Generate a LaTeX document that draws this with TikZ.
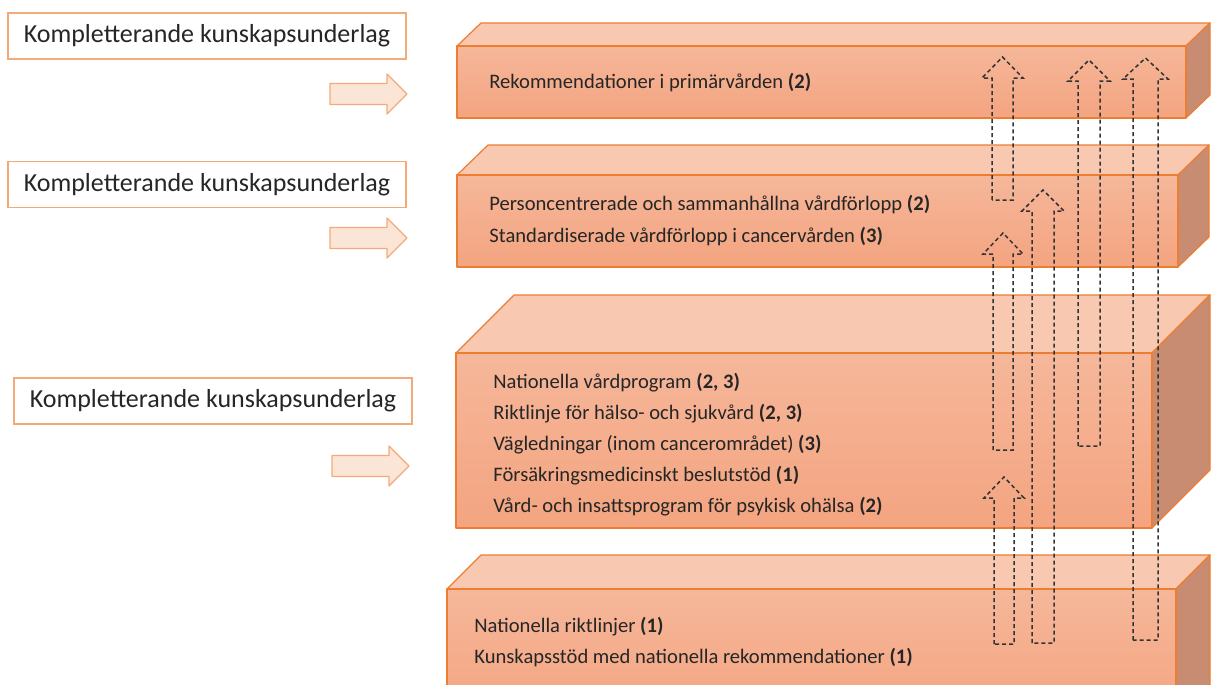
\documentclass[tikz,border=0pt]{standalone}
\usepackage{fontspec}
\setmainfont{Carlito}
\usepackage{xcolor}
\usepackage{tikz}
\usetikzlibrary{positioning}

\definecolor{topface}{RGB}{248,200,177}
\definecolor{fronttop}{RGB}{245,183,154}
\definecolor{frontbot}{RGB}{244,164,128}
\definecolor{sideface}{RGB}{199,140,114}
\definecolor{edgeorange}{RGB}{237,125,49}
\definecolor{labeledge}{RGB}{244,170,120}
\definecolor{peach}{RGB}{251,229,214}

\begin{document}
\begin{tikzpicture}[
    x=0.5pt, y=-0.5pt,
    face/.style={draw=edgeorange, line width=0.6pt, line join=round},
    front/.style={face, top color=fronttop, bottom color=frontbot},
    topside/.style={face, fill=topface},
    rightside/.style={face, fill=sideface},
    item/.style={anchor=west, inner sep=0pt, text=black!85, font=\fontsize{10.3}{12}\selectfont},
    sidebox/.style={rectangle, draw=labeledge, line width=0.6pt, fill=white, minimum width=199pt, minimum height=23pt, text=black!85, font=\fontsize{13}{15}\selectfont},
    blockarrow/.style={draw=labeledge, line width=0.6pt, fill=peach, line join=round},
    dasharrow/.style={draw=black!80, line width=0.75pt, dash pattern=on 2pt off 1.5pt}
]
\clip (0,0) rectangle (1216,685);

% Box 1 - primary care
\path[topside] (457,46) -- (481,23) -- (1210,23) -- (1186,46) -- cycle;
\path[rightside] (1186,46) -- (1210,23) -- (1210,95) -- (1186,118) -- cycle;
\path[front] (457,46) rectangle (1186,118);
\node[item] (rek) at (489,83) {Rekommendationer i primärvården \textbf{(2)}};

% Box 2 - care pathways
\path[topside] (457,175) -- (488,145) -- (1209,145) -- (1178,175) -- cycle;
\path[rightside] (1178,175) -- (1209,145) -- (1209,237) -- (1178,267) -- cycle;
\path[front] (457,175) rectangle (1178,267);
\node[item] (pers) at (489,205) {Personcentrerade och sammanhållna vårdförlopp \textbf{(2)}};
\node[item, below=16pt of pers.west, anchor=west] (std) {Standardiserade vårdförlopp i cancervården \textbf{(3)}};

% Box 3 - programmes
\path[topside] (456,353) -- (514,295) -- (1210,295) -- (1152,353) -- cycle;
\path[rightside] (1152,353) -- (1210,295) -- (1210,470) -- (1152,528) -- cycle;
\path[front] (456,353) rectangle (1152,528);
\node[item] (nvp) at (493,383) {Nationella vårdprogram \textbf{(2, 3)}};
\node[item, below=15.4pt of nvp.west, anchor=west] (rikt) {Riktlinje för hälso- och sjukvård \textbf{(2, 3)}};
\node[item, below=15.4pt of rikt.west, anchor=west] (vagl) {Vägledningar (inom cancerområdet) \textbf{(3)}};
\node[item, below=15.4pt of vagl.west, anchor=west] (fors) {Försäkringsmedicinskt beslutstöd \textbf{(1)}};
\node[item, below=15.4pt of fors.west, anchor=west] (psyk) {Vård- och insattsprogram för psykisk ohälsa \textbf{(2)}};

% Box 4 - national guidelines
\path[topside] (447,589) -- (481,555) -- (1210,555) -- (1176,589) -- cycle;
\path[rightside] (1176,589) -- (1210,555) -- (1210,720) -- (1176,720) -- cycle;
\path[front] (447,589) rectangle (1176,720);
\node[item] (nrl) at (474,627) {Nationella riktlinjer \textbf{(1)}};
\node[item, below=15.5pt of nrl.west, anchor=west] (kstod) {Kunskapsstöd med nationella rekommendationer \textbf{(1)}};

% Dashed up arrows between levels
\foreach \xa/\xb/\yb/\yt in {992/1013/200/57, 993/1013/450/233, 1032/1054/643/190,
                             1078/1100/446/60, 1133/1158/640/58, 994/1014/644/477}
  \draw[dasharrow] (\xa,\yb) -- (\xa,\yt+21) -- (\xa-10,\yt+21) -- ({(\xa+\xb)/2},\yt)
        -- (\xb+10,\yt+21) -- (\xb,\yt+21) -- (\xb,\yb) -- cycle;

% Complementary knowledge labels
\node[sidebox] (komp1) at (207,36) {Kompletterande kunskapsunderlag};
\node[sidebox] (komp2) at (207,184.5) {Kompletterande kunskapsunderlag};
\node[sidebox] (komp3) at (213,401) {Kompletterande kunskapsunderlag};

% Orange block arrows
\foreach \xa/\ym in {330/94, 330/238, 332/466}
  \draw[blockarrow] (\xa,\ym-10.5) -- (\xa+57,\ym-10.5) -- (\xa+57,\ym-20) -- (\xa+77,\ym)
        -- (\xa+57,\ym+20) -- (\xa+57,\ym+10.5) -- (\xa,\ym+10.5) -- cycle;

\end{tikzpicture}
\end{document}
